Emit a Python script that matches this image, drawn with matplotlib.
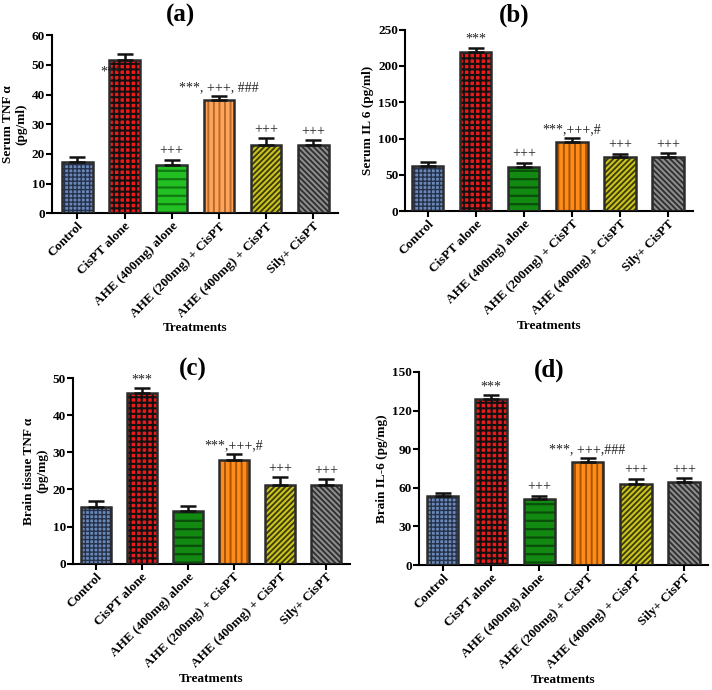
import numpy as np
import matplotlib
matplotlib.use("Agg")
import matplotlib.pyplot as plt

plt.rcParams['font.family'] = ['Liberation Serif', 'DejaVu Serif']

# treatment groups
groups = ["Control", "CisPT alone", "AHE (400mg) alone", "AHE (200mg) + CisPT",
          "AHE (400mg) + CisPT", "Sily+ CisPT"]

# (a) serum TNF alpha
tnf_serum = [17.3, 51.8, 16.2, 38.0, 22.9, 22.9]
tnf_serum_err = [1.5, 1.9, 1.9, 1.5, 2.3, 1.7]
tnf_serum_sig = ["", "***", "+++", "***, +++, ###", "+++", "+++"]

# (b) serum IL 6
il6_serum = [62.8, 219.2, 60.6, 95.0, 73.9, 73.9]
il6_serum_err = [5.5, 5.5, 6.4, 5.6, 5.5, 6.1]
il6_serum_sig = ["", "***", "+++", "***,+++,#", "+++", "+++"]

# (c) brain tissue TNF alpha
tnf_brain = [15.4, 46.0, 14.3, 28.0, 21.2, 21.2]
tnf_brain_err = [1.5, 1.3, 1.3, 1.5, 2.1, 1.6]
tnf_brain_sig = ["", "***", "", "***,+++,#", "+++", "+++"]

# (d) brain IL-6
il6_brain = [53.3, 129.1, 51.3, 80.1, 63.2, 64.2]
il6_brain_err = [2.7, 2.8, 2.6, 3.1, 3.9, 3.1]
il6_brain_sig = ["", "***", "+++", "***, +++,###", "+++", "+++"]

# bar styles: face, hatch colour, hatch, hatch linewidth
styles_a = [("#6a88b8", "#26324a", "++++", 1.0),
            ("#ee1a1a", "#111111", "+++", 1.5),
            ("#22c022", "#127a12", "--", 1.6),
            ("#ffa45a", "#b86a2a", "|||", 1.4),
            ("#c9c21e", "#3a3a08", "//////", 1.3),
            ("#8c8c8c", "#2e2e2e", "\\\\\\\\\\\\", 1.3)]
styles_b = list(styles_a)
styles_b[2] = ("#128a12", "#0a4e0a", "--", 1.6)
styles_b[3] = ("#ff8c1a", "#a85400", "|||", 1.4)

fig = plt.figure(figsize=(7.12, 6.90), dpi=100)

panels = [
    ("(a)", [0.073, 0.691, 0.402, 0.258], tnf_serum, tnf_serum_err, tnf_serum_sig,
     "Serum TNF α\n(pg/ml)", np.arange(0, 61, 10), (-0.54, 5.53), styles_a, (0.253, 0.978)),
    ("(b)", [0.569, 0.694, 0.405, 0.263], il6_serum, il6_serum_err, il6_serum_sig,
     "Serum IL 6 (pg/ml)", np.arange(0, 251, 50), (-0.47, 5.53), styles_b, (0.722, 0.978)),
    ("(c)", [0.1025, 0.183, 0.389, 0.269], tnf_brain, tnf_brain_err, tnf_brain_sig,
     "Brain tissue TNF α\n(pg/mg)", np.arange(0, 51, 10), (-0.49, 5.52), styles_b, (0.271, 0.464)),
    ("(d)", [0.588, 0.181, 0.406, 0.280], il6_brain, il6_brain_err, il6_brain_sig,
     "Brain IL-6 (pg/mg)", np.arange(0, 151, 30), (-0.5, 5.49), styles_b, (0.771, 0.464)),
]

x = np.arange(len(groups))
for tag, rect, vals, errs, sigs, ylab, yt, xl, styles, tpos in panels:
    ax = fig.add_axes(rect)
    # patterned fill, one bar at a time so each hatch gets its own line width
    for xi, v, (face, hcol, hatch, hlw) in zip(x, vals, styles):
        with plt.rc_context({'hatch.linewidth': hlw}):
            ax.bar(xi, v, width=0.65, color=face, edgecolor=hcol, linewidth=0,
                   hatch=hatch, zorder=2)
    ax.bar(x, vals, width=0.65, fill=False, edgecolor="#2b2b2b", linewidth=1.8, zorder=3)
    ax.errorbar(x, vals, yerr=[np.zeros(len(vals)), errs], fmt="none", ecolor="#111111",
                elinewidth=1.8, capsize=5.5, capthick=1.8, zorder=4)
    for xi, v, e, s in zip(x, vals, errs, sigs):
        if not s:
            continue
        if tag == "(a)" and s == "***":
            ax.text(xi - 0.3, v * 0.92, s, ha="center", va="center", fontsize=10, color="#222222")
        else:
            ax.annotate(s, (xi, v + e), xytext=(0, 1.5), textcoords="offset points",
                        ha="center", va="bottom", fontsize=10, color="#222222")
    ax.set_xlim(*xl)
    ax.set_ylim(0, yt[-1])
    ax.set_yticks(yt)
    ax.set_xticks(x)
    ax.set_xticklabels(groups, rotation=45, ha="right", rotation_mode="anchor",
                       fontsize=9.5, fontweight="bold")
    for lab in ax.get_yticklabels():
        lab.set_fontweight("bold")
        lab.set_fontsize(9.5)
    ax.spines["top"].set_visible(False)
    ax.spines["right"].set_visible(False)
    ax.spines["left"].set_linewidth(1.5)
    ax.spines["bottom"].set_linewidth(1.5)
    ax.tick_params(axis="both", width=1.5, length=4, pad=1)
    ax.set_ylabel(ylab, fontsize=9.5, fontweight="bold", labelpad=3)
    ax.set_xlabel("Treatments", fontsize=9.5, fontweight="bold", labelpad=2)
    fig.text(tpos[0], tpos[1], tag, fontsize=18, fontweight="bold", ha="center", va="center")

fig.savefig("out.png", dpi=100)
